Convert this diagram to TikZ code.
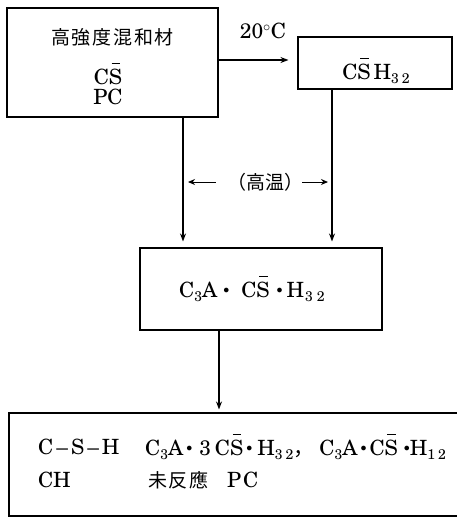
\documentclass[tikz,border=0pt]{standalone}
\usepackage{fontspec}
\setmainfont{TeX Gyre Schola}
\newfontfamily\jp{Noto Sans CJK JP}
\newfontfamily\jpwide[LetterSpace=9]{Noto Sans CJK JP}
\usetikzlibrary{arrows.meta,positioning,calc}
\newcommand{\Sbar}{\rlap{\hspace{0.13em}\raisebox{0.98em}{\rule{0.4em}{0.06em}}}S}
\newcommand{\sub}[1]{\raisebox{-0.2em}{\fontsize{14}{14}\selectfont #1}}
\newcommand{\dt}{\raisebox{4.5pt}{\fontsize{13}{13}\selectfont$\bullet$}}

\begin{document}
\begin{tikzpicture}[x=1pt, y=-1pt,
    box/.style={rectangle, draw, line width=1.1pt, inner sep=0pt},
    arr/.style={-{Stealth[length=8pt,width=6pt]}, line width=1.1pt},
    harr/.style={-{Stealth[length=7pt,width=6pt]}, line width=1pt},
    lbl/.style={inner sep=0pt, font=\fontsize{21}{24}\selectfont},
    jlbl/.style={inner sep=0pt, font=\jpwide\fontsize{19}{21}\selectfont}
]
    \useasboundingbox (0,0) rectangle (457,520);

    % boxes
    \node [box, minimum width=211pt, minimum height=109pt] (mix) at (112.5,62.5) {};
    \node [box, minimum width=154pt, minimum height=52pt] (csh) at (375,63) {};
    \node [box, minimum width=242pt, minimum height=82pt] (etr) at (261,289) {};
    \node [box, minimum width=452pt, minimum height=103pt] (prod) at (235,464.5) {};

    % texts
    \node [jlbl] (mixname) at (112.5,37) {高強度混和材};
    \node [lbl, text height=15pt, text depth=0pt] (mixcs) at (108,77) {C\Sbar};
    \node [lbl, text height=15pt, text depth=0pt] (mixpc) at (108,97) {PC};
    \node [lbl] (cshtxt) at (376,71) {C\Sbar\hspace{3pt}H\sub{3\kern3pt 2}};
    \node [lbl] (temp) at (263,31) {20$^\circ$C};
    \node [lbl] (etrtxt) at (252,289) {C\sub{3}A\hspace{6pt}\dt\hspace{12pt}C\Sbar\hspace{7pt}\dt\hspace{4pt}H\hspace{1pt}\sub{3\kern4pt 2}};
    \node [lbl, anchor=west] (p1) at (38,447) {C\kern3pt--\kern3pt S\kern3pt--\kern3pt H};
    \node [lbl, anchor=west] (p2) at (145,447) {C\sub{3}A\hspace{3pt}\dt\hspace{7pt}3\hspace{4pt}C\Sbar\hspace{3pt}\dt\hspace{5pt}H\sub{3\kern3pt 2}{\jp ，}\hspace{5pt}C\sub{3}A\hspace{3pt}\dt\hspace{3pt}C\Sbar\hspace{6pt}\dt H\sub{1\kern3pt 2}};
    \node [lbl, anchor=west] (p3) at (38,480) {CH};
    \node [jlbl, anchor=west] (p4) at (148,480) {未反應};
    \node [lbl, anchor=west] (p5) at (227,480) {P\kern2pt C};

    % high temperature label
    \node [inner sep=0pt, font=\jp\fontsize{19}{21}\selectfont] (hot) at (265,182) {（高温）};
    \coordinate (hotL) at (188,182);
    \coordinate (hotR) at (328,182);
    \draw [harr, shorten <=11pt] (hot.west) -- (hotL);
    \draw [harr, shorten <=-1pt] (hot.east) -- (hotR);

    % connectors
    \draw [arr, shorten >=9pt] (mix.east |- 0,60) -- (csh.west |- 0,60);
    \draw [arr, shorten >=6pt] ([xshift=70.5pt]mix.south) -- ([xshift=70.5pt]mix.south |- etr.north);
    \draw [arr, shorten >=6pt] ([xshift=-43pt]csh.south) -- ([xshift=-43pt]csh.south |- etr.north);
    \draw [arr, shorten >=3pt] ([xshift=-42pt]etr.south) -- ([xshift=-42pt]etr.south |- prod.north);
\end{tikzpicture}
\end{document}
